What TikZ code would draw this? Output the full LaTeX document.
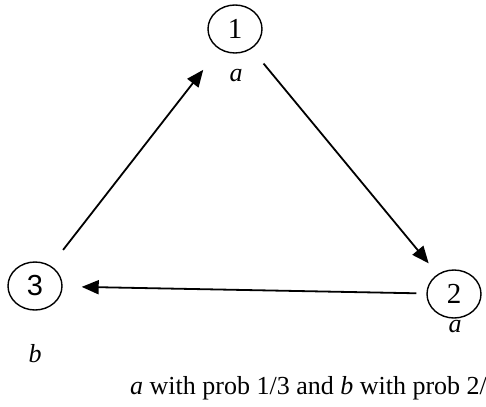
\documentclass[tikz,border=0pt]{standalone}
\usepackage{fontspec}
\setmainfont{Liberation Serif}
\newfontfamily\numsans{Liberation Sans}
\usetikzlibrary{arrows.meta,shapes.geometric}
\begin{document}
\begin{tikzpicture}[x=1pt,y=-1pt,
  state/.style={draw, ellipse, line width=1.4pt, minimum width=54pt, minimum height=48pt, inner sep=0pt, font=\fontsize{29}{32}\selectfont},
  lab/.style={font=\fontsize{26}{30}\selectfont\itshape},
  edge/.style={line width=1.8pt, -{Triangle[length=17pt,width=14pt]}},
  captext/.style={font=\fontsize{26}{30}\selectfont, anchor=base west, inner sep=0pt}]
\useasboundingbox (0,0) rectangle (486,406);
\node[state] (n1) at (235,29) {1};
\node[state] (n2) at (454,294) {2};
\node[state] (n3) at (35,286) {\numsans 3};
\node[lab] (l1) at (236,76) {a};
\node[lab] (l2) at (455,327) {a};
\node[lab] (l3) at (35,354) {b};
\node[captext] (t) at (130,394) {\textit{a} with prob 1/3 and \textit{b} with prob 2/3};
\draw[edge, shorten <=20pt, shorten >=26pt] (n3) -- (n1);
\draw[edge, shorten <=19pt, shorten >=14pt] (n1) -- (n2);
\draw[edge, shorten <=10pt, shorten >=19pt] (n2) -- (n3);
\end{tikzpicture}
\end{document}
